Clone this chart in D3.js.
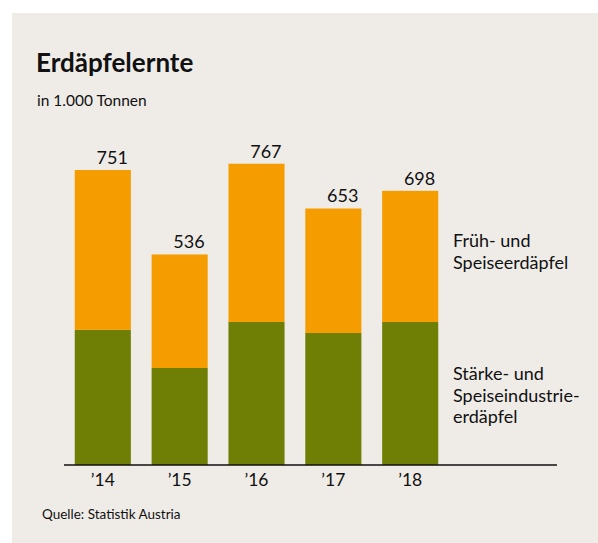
<!DOCTYPE html>
<html>
<head>
<meta charset="utf-8">
<script src="https://cdn.jsdelivr.net/npm/d3@7"></script>
<style>
  body { margin: 0; background: #fff; }
  svg { display: block; font-family: Lato, "Noto Sans", sans-serif; }
</style>
</head>
<body>
<svg id="chart"></svg>
<script>
const years = ["’14", "’15", "’16", "’17", "’18"];
const starch = [344, 247, 364, 336, 364];
const totals = [751, 536, 767, 653, 698];
const fresh = totals.map((t, i) => t - starch[i]);

const width = 598, height = 543;
const colors = { starch: "#6f7e04", fresh: "#f59d00" };

const svg = d3.select("#chart")
    .attr("width", width)
    .attr("height", height);

svg.append("rect")
    .attr("x", 12).attr("y", 13)
    .attr("width", 586).attr("height", 530)
    .attr("fill", "#efece8");

svg.append("text")
    .attr("x", 36).attr("y", 72)
    .attr("font-size", 26)
    .attr("font-weight", "bold")
    .attr("fill", "#111")
    .text("Erdäpfelernte");

svg.append("text")
    .attr("x", 37).attr("y", 106)
    .attr("font-size", 15.5)
    .attr("fill", "#111")
    .text("in 1.000 Tonnen");

const baseY = 465;
const x = d3.scaleBand()
    .domain(years)
    .range([64, 449])
    .paddingInner(0.27)
    .paddingOuter(0.14);
const y = d3.scaleLinear()
    .domain([0, 751])
    .range([baseY, 170]);

const rows = years.map((yr, i) => ({ year: yr, starch: starch[i], fresh: fresh[i], total: totals[i] }));
const stack = d3.stack().keys(["starch", "fresh"])(rows);

svg.append("g")
    .selectAll("g")
    .data(stack)
    .join("g")
    .attr("fill", d => colors[d.key])
    .selectAll("rect")
    .data(d => d)
    .join("rect")
    .attr("x", d => x(d.data.year))
    .attr("y", d => y(d[1]))
    .attr("width", x.bandwidth())
    .attr("height", d => y(d[0]) - y(d[1]));

svg.append("g")
    .selectAll("text")
    .data(rows)
    .join("text")
    .attr("x", d => x(d.year) + x.bandwidth() - 3)
    .attr("y", d => y(d.total) - 6)
    .attr("text-anchor", "end")
    .attr("font-size", 18)
    .attr("fill", "#111")
    .text(d => d.total);

// x axis
const axis = svg.append("g")
    .attr("transform", `translate(0,${baseY})`)
    .call(d3.axisBottom(x).tickSize(0).tickPadding(9));
axis.select(".domain").remove();
axis.append("line")
    .attr("x1", 64).attr("x2", 557)
    .attr("stroke", "#111").attr("stroke-width", 1.5);
axis.selectAll(".tick text")
    .attr("font-size", 17.5)
    .attr("font-family", "Lato, 'Noto Sans', sans-serif")
    .attr("fill", "#111");

// legend labels
const legend = [
    { lines: ["Früh- und", "Speiseerdäpfel"], y: 247 },
    { lines: ["Stärke- und", "Speiseindustrie-", "erdäpfel"], y: 380 }
];
legend.forEach(l => {
    svg.append("text")
        .attr("x", 453).attr("y", l.y)
        .attr("font-size", 18)
        .attr("fill", "#111")
        .selectAll("tspan")
        .data(l.lines)
        .join("tspan")
        .attr("x", 453)
        .attr("dy", (d, i) => i === 0 ? 0 : 21.5)
        .text(d => d);
});

svg.append("text")
    .attr("x", 42).attr("y", 519)
    .attr("font-size", 13.5)
    .attr("fill", "#111")
    .text("Quelle: Statistik Austria");
</script>
</body>
</html>
